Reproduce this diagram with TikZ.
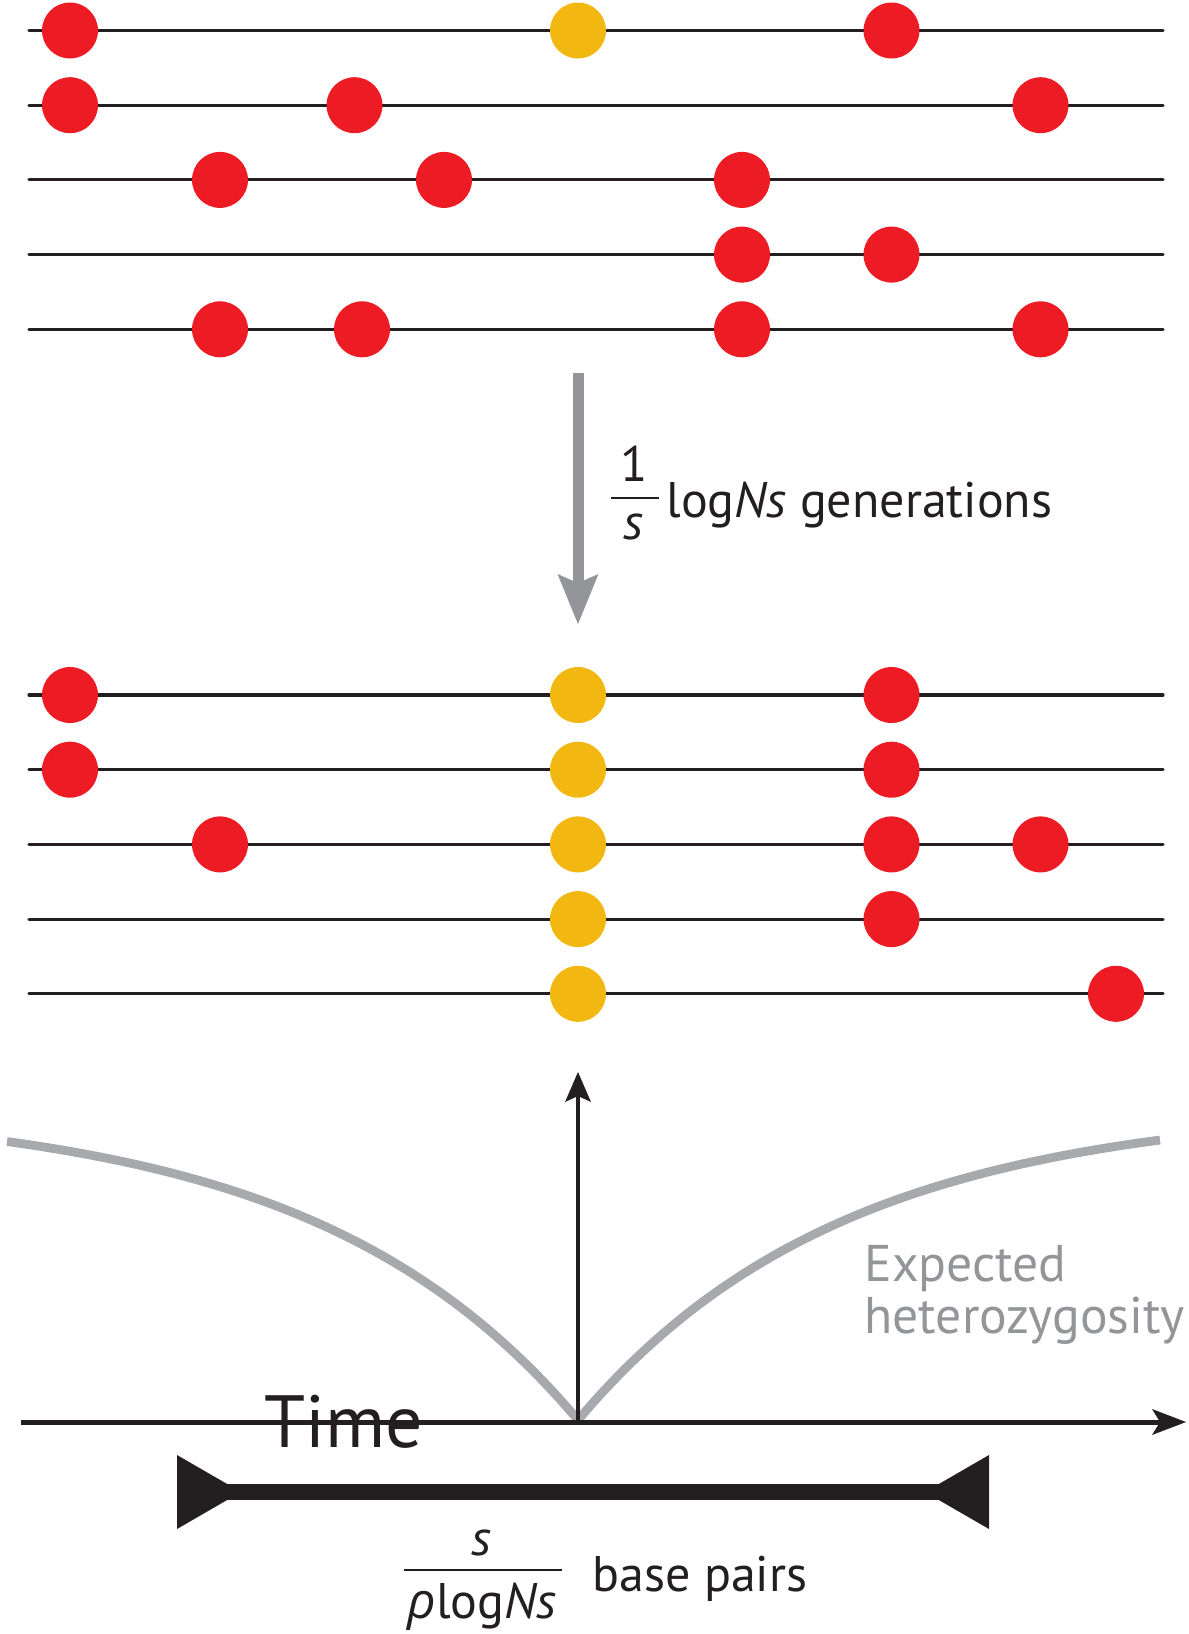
\documentclass[tikz,border=0pt]{standalone}
\usepackage{fontspec}
\setmainfont{PT Sans}
\newfontfamily\grk{Open Sans}
\usetikzlibrary{arrows.meta}
\definecolor{dotred}{HTML}{ED1C24}
\definecolor{dotyel}{HTML}{F2B811}
\definecolor{ink}{HTML}{231F20}
\definecolor{arrgray}{HTML}{939598}
\definecolor{curvegray}{HTML}{A7A9AC}
\begin{document}
\begin{tikzpicture}[x=0.5pt,y=-0.5pt,
  rowline/.style={line width=1.55pt, draw=ink, line cap=round},
  dotbase/.style={circle, minimum size=28pt, inner sep=0pt, draw=none},
  rdot/.style={dotbase, fill=dotred},
  ydot/.style={dotbase, fill=dotyel},
  lbl/.style={inner sep=0pt, font=\fontsize{25}{30}\selectfont, text=ink},
  glbl/.style={inner sep=0pt, font=\fontsize{25.8}{30}\selectfont, text=arrgray},
  fracbar/.style={draw=ink, line width=1.25pt},
  curve/.style={draw=curvegray, line width=4.4pt},
  garrow/.style={draw=arrgray, fill=arrgray, line width=5.5pt, -{Stealth[length=25pt,width=20.5pt,inset=4.5pt,line width=0pt]}},
  axarrow/.style={draw=ink, fill=ink, line width=2.5pt, -{Stealth[length=17pt,width=13pt,inset=4pt,line width=0pt]}},
  varrow/.style={draw=ink, fill=ink, line width=1.8pt, -{Stealth[length=15pt,width=13pt,inset=3pt,line width=0pt]}}
]
\path[use as bounding box] (0,0) rectangle (1189,1634);

% ---- top rows ----
\foreach \i/\yy in {1/30.5,2/105.2,3/179.9,4/254.6,5/329.3}{
  \coordinate (tL\i) at (29,\yy);
  \coordinate (tR\i) at (1163,\yy);
  \draw[rowline] (tL\i) -- (tR\i);
}
\node[rdot] (t1a) at (70,30.5) {};
\node[ydot] (t1b) at (578,30.5) {};
\node[rdot] (t1c) at (891.5,30.5) {};
\node[rdot] (t2a) at (70,105.2) {};
\node[rdot] (t2b) at (354.5,105.2) {};
\node[rdot] (t2c) at (1040.5,105.2) {};
\node[rdot] (t3a) at (220,179.9) {};
\node[rdot] (t3b) at (444,179.9) {};
\node[rdot] (t3c) at (742,179.9) {};
\node[rdot] (t4a) at (742,254.6) {};
\node[rdot] (t4b) at (891.5,254.6) {};
\node[rdot] (t5a) at (220,329.3) {};
\node[rdot] (t5b) at (362,329.3) {};
\node[rdot] (t5c) at (742,329.3) {};
\node[rdot] (t5d) at (1040.5,329.3) {};

% ---- gray arrow ----
\coordinate (gtop) at (578,373);
\coordinate (gtip) at (578,624);
\draw[garrow] (gtop) -- (gtip);
\node[lbl, anchor=base] (gnum) at (634,481) {1};
\coordinate (gfl) at (611,498);
\coordinate (gfr) at (659,498);
\draw[fracbar] (gfl) -- (gfr);
\node[lbl, anchor=base] (gden) at (633,539) {\itshape s};
\node[lbl, anchor=base west] (gtext) at (666,517) {log\textit{Ns} generations};

% ---- middle rows ----
\foreach \i/\yy in {1/695,2/769.7,3/844.4,4/919.1,5/993.8}{
  \coordinate (mL\i) at (29,\yy);
  \coordinate (mR\i) at (1163,\yy);
  \draw[rowline] (mL\i) -- (mR\i);
}
\node[rdot] (m1a) at (70,695) {};
\node[ydot] (m1b) at (578,695) {};
\node[rdot] (m1c) at (891.5,695) {};
\node[rdot] (m2a) at (70,769.7) {};
\node[ydot] (m2b) at (578,769.7) {};
\node[rdot] (m2c) at (891.5,769.7) {};
\node[rdot] (m3a) at (220,844.4) {};
\node[ydot] (m3b) at (578,844.4) {};
\node[rdot] (m3c) at (891.5,844.4) {};
\node[rdot] (m3d) at (1040.5,844.4) {};
\node[ydot] (m4b) at (578,919.1) {};
\node[rdot] (m4c) at (891.5,919.1) {};
\node[ydot] (m5b) at (578,993.8) {};
\node[rdot] (m5c) at (1116,993.8) {};

% ---- heterozygosity plot ----
\draw[curve] plot[domain=7:578, samples=90] (\x, {1420-315*(1-exp(-(578-\x)/265))});
\draw[curve] plot[domain=578:1160, samples=90] (\x, {1420-315*(1-exp(-(\x-578)/265))});
\coordinate (origin) at (578,1422);
\coordinate (vtip) at (578,1072);
\coordinate (ax0) at (21,1422);
\coordinate (ax1) at (1186,1422);
\draw[varrow] (origin) -- (vtip);
\draw[axarrow] (ax0) -- (ax1);
\node[glbl, anchor=base west] (exp1) at (864,1281) {Expected};
\node[glbl, anchor=base west] (exp2) at (864,1333) {heterozygosity};
\node[anchor=base west, inner sep=0pt, text=ink, font=\fontsize{37}{40}\selectfont] (time) at (264,1447) {Time};

% ---- dimension bar ----
\coordinate (dl) at (177,1492);
\coordinate (dr) at (989,1492);
\draw[draw=ink, line width=8pt] (dl) -- (dr);
\fill[ink] (dl) ++(0,-37) -- ++(64,37) -- ++(-64,37) -- cycle;
\fill[ink] (dr) ++(0,-37) -- ++(-64,37) -- ++(64,37) -- cycle;
\node[lbl, anchor=base] (bnum) at (481,1555) {\itshape s};
\coordinate (bfl) at (404,1570);
\coordinate (bfr) at (562,1570);
\draw[fracbar] (bfl) -- (bfr);
\node[lbl, anchor=base] (bden) at (482,1618) {{\grk\itshape ρ}log\textit{Ns}};
\node[lbl, anchor=base west] (bpairs) at (592,1591) {base pairs};
\end{tikzpicture}
\end{document}
